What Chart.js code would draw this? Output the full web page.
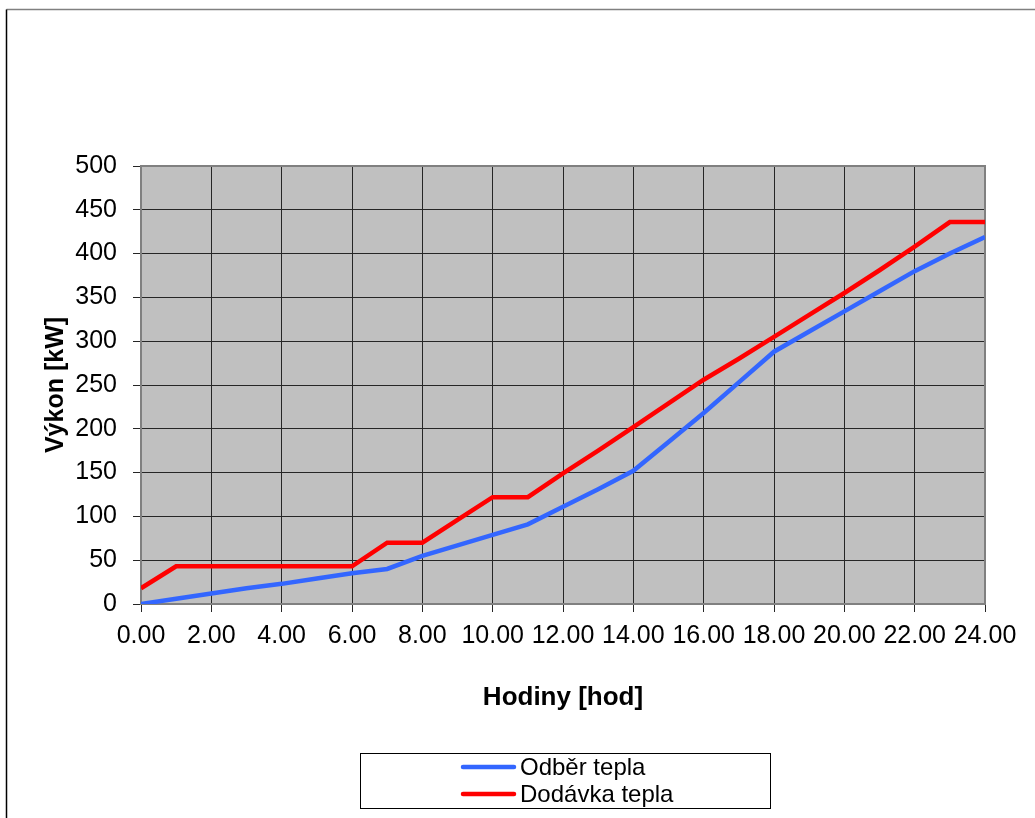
<!DOCTYPE html>
<html>
<head>
<meta charset="utf-8">
<script src="https://cdn.jsdelivr.net/npm/chart.js@4/dist/chart.umd.min.js"></script>
<style>
  html, body { margin: 0; padding: 0; background: #ffffff; }
  #c { display: block; }
</style>
</head>
<body>
<canvas id="c" width="1035" height="818"></canvas>
<script>
// Hodinový průběh výkonu [kW]
const hodiny = [0, 1, 2, 3, 4, 5, 6, 7, 8, 9, 10, 11, 12, 13, 14, 15, 16, 17, 18, 19, 20, 21, 22, 23, 24];
const odberTepla = [0, 6, 12, 18, 23, 29, 35, 40, 55, 67, 79, 91, 111, 131, 152, 185, 218, 253, 288, 311, 334, 357, 380, 400, 419];
const dodavkaTepla = [18, 43, 43, 43, 43, 43, 43, 70, 70, 96, 122, 122, 149, 175, 202, 229, 256, 280, 305, 330, 355, 381, 408, 436, 436];
const seriesNames = ['Odběr tepla', 'Dodávka tepla'];
const seriesColors = ['#3366ff', '#ff0000'];

const FONT = "'Liberation Sans', Arial, sans-serif";

const toPoints = (vals) => vals.map((v, i) => ({ x: hodiny[i], y: v }));

// plot background, outer frame, plot border and boxed legend
const decor = {
  id: 'decor',
  beforeDraw(chart) {
    const { ctx, chartArea: a } = chart;
    ctx.save();
    ctx.fillStyle = '#c0c0c0';
    ctx.fillRect(a.left, a.top, a.right - a.left, a.bottom - a.top);
    // outer frame
    ctx.lineWidth = 1.5;
    ctx.strokeStyle = '#808080';
    ctx.beginPath();
    ctx.moveTo(6.5, 9.5);
    ctx.lineTo(1035, 9.5);
    ctx.stroke();
    ctx.strokeStyle = '#000000';
    ctx.beginPath();
    ctx.moveTo(6.5, 9.5);
    ctx.lineTo(6.5, 818);
    ctx.stroke();
    ctx.restore();
  },
  beforeDatasetsDraw(chart) {
    const { ctx, chartArea: a } = chart;
    ctx.save();
    ctx.strokeStyle = '#808080';
    ctx.lineWidth = 2;
    ctx.strokeRect(a.left, a.top, a.right - a.left, a.bottom - a.top);
    ctx.restore();
  },
  afterDraw(chart) {
    const { ctx } = chart;
    ctx.save();
    const bx = 360, by = 753, bw = 410, bh = 55;
    ctx.fillStyle = '#ffffff';
    ctx.fillRect(bx, by, bw, bh);
    ctx.strokeStyle = '#000000';
    ctx.lineWidth = 1;
    ctx.strokeRect(bx + 0.5, by + 0.5, bw, bh);
    const rows = [767, 794];
    chart.data.datasets.forEach((ds, i) => {
      const y = rows[i];
      ctx.strokeStyle = ds.borderColor;
      ctx.lineWidth = 4.5;
      ctx.lineCap = 'round';
      ctx.beginPath();
      ctx.moveTo(463, y);
      ctx.lineTo(514, y);
      ctx.stroke();
      ctx.fillStyle = '#000000';
      ctx.font = '24px ' + FONT;
      ctx.textBaseline = 'middle';
      ctx.textAlign = 'left';
      ctx.fillText(ds.label, 520, y + 1);
    });
    ctx.restore();
  }
};

new Chart(document.getElementById('c'), {
  type: 'line',
  data: {
    datasets: [
      {
        label: seriesNames[0],
        data: toPoints(odberTepla),
        borderColor: seriesColors[0],
        borderWidth: 4.5,
        pointRadius: 0,
        tension: 0,
        borderJoinStyle: 'miter'
      },
      {
        label: seriesNames[1],
        data: toPoints(dodavkaTepla),
        borderColor: seriesColors[1],
        borderWidth: 4.5,
        pointRadius: 0,
        tension: 0,
        borderJoinStyle: 'miter'
      }
    ]
  },
  options: {
    responsive: false,
    animation: false,
    layout: { padding: { top: 166, right: 50, left: 0, bottom: 0 } },
    plugins: {
      legend: { display: false },
      tooltip: { enabled: false }
    },
    scales: {
      x: {
        type: 'linear',
        min: 0,
        max: 24,
        afterFit(scale) { scale.height = 214; },
        grid: { color: '#262626', lineWidth: 1, tickLength: 8, drawTicks: true },
        border: { display: false },
        ticks: {
          stepSize: 2,
          padding: 9,
          maxRotation: 0,
          autoSkip: false,
          color: '#000000',
          font: { family: FONT, size: 25 },
          callback: (v) => Number(v).toFixed(2)
        },
        title: {
          display: true,
          text: 'Hodiny [hod]',
          color: '#000000',
          font: { family: FONT, size: 26, weight: 'bold' },
          padding: { top: 0, bottom: 105 }
        }
      },
      y: {
        min: 0,
        max: 500,
        afterFit(scale) { scale.width = 141; },
        grid: { color: '#262626', lineWidth: 1, tickLength: 8, drawTicks: true },
        border: { display: false },
        ticks: {
          stepSize: 50,
          padding: 16,
          color: '#000000',
          font: { family: FONT, size: 25 }
        },
        title: {
          display: true,
          text: 'Výkon [kW]',
          color: '#000000',
          font: { family: FONT, size: 25, weight: 'bold' },
          padding: { top: 41, bottom: 0 }
        }
      }
    }
  },
  plugins: [decor]
});
</script>
</body>
</html>
